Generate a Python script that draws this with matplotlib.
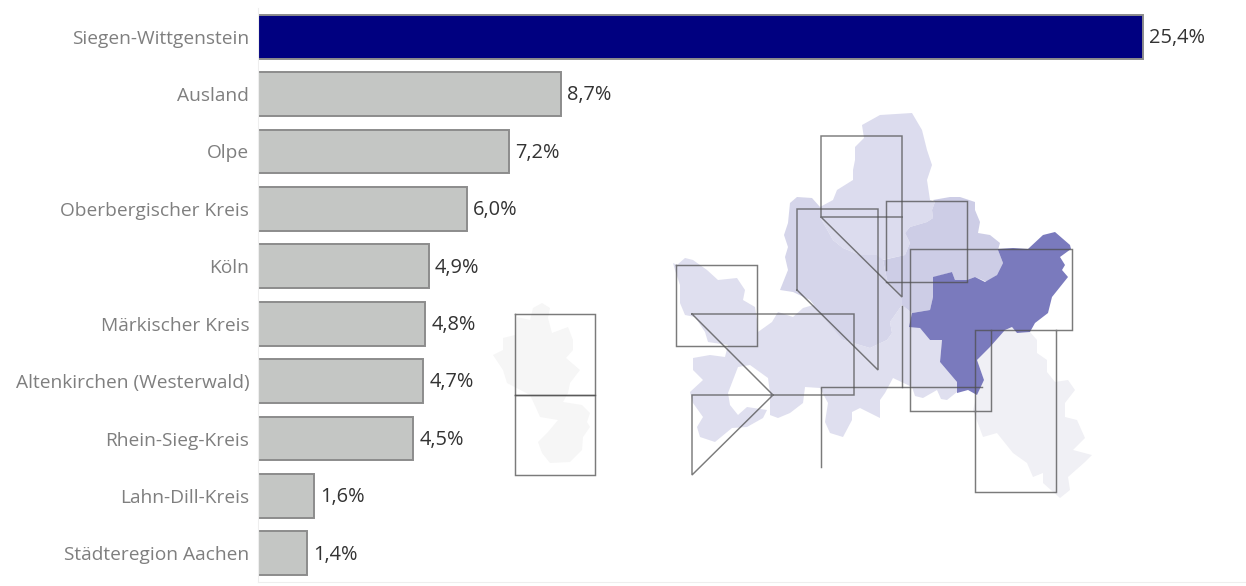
import matplotlib.pyplot as plt
from matplotlib.patches import Polygon

plt.rcParams['font.family'] = ['Open Sans', 'DejaVu Sans']

categories = ["Siegen-Wittgenstein", "Ausland", "Olpe", "Oberbergischer Kreis", "Köln",
              "Märkischer Kreis", "Altenkirchen (Westerwald)", "Rhein-Sieg-Kreis",
              "Lahn-Dill-Kreis", "Städteregion Aachen"]
values = [25.4, 8.7, 7.2, 6.0, 4.9, 4.8, 4.75, 4.45, 1.6, 1.4]
value_labels = ["25,4%", "8,7%", "7,2%", "6,0%", "4,9%", "4,8%", "4,7%", "4,5%", "1,6%", "1,4%"]

# map outlines in pixels
region_west = [(673, 263), (677, 265), (685, 258), (693, 260), (707, 270), (718, 280), (737, 278), (745, 290),
               (743, 300), (755, 307), (757, 320), (758, 332), (772, 322), (778, 312), (793, 317), (803, 308),
               (820, 303), (830, 317), (843, 340), (870, 348), (887, 340), (892, 333), (890, 322), (902, 305),
               (912, 313), (920, 328), (930, 340), (942, 340), (940, 362), (957, 382), (957, 392), (947, 400),
               (941, 399), (937, 390), (923, 398), (915, 396), (912, 387), (893, 378), (885, 393), (880, 400),
               (880, 418), (860, 408), (852, 412), (852, 420), (843, 437), (830, 433), (825, 422), (828, 403),
               (820, 388), (805, 387), (803, 403), (790, 413), (778, 418), (770, 415), (770, 393), (768, 378),
               (750, 365), (738, 367), (728, 393), (730, 405), (738, 415), (747, 407), (767, 410), (763, 418),
               (747, 427), (732, 428), (715, 442), (700, 437), (697, 427), (703, 417), (693, 403), (690, 392),
               (703, 380), (693, 370), (693, 358), (710, 355), (725, 357), (728, 345), (708, 342), (705, 332),
               (695, 317), (685, 315), (680, 303), (680, 285), (675, 270)]
region_north = [(862, 125), (880, 115), (912, 113), (922, 130), (927, 150), (932, 165), (927, 180), (930, 200),
                (935, 202), (932, 210), (933, 218), (927, 222), (910, 227), (905, 233), (910, 243), (905, 255),
                (882, 260), (877, 255), (860, 255), (843, 248), (833, 240), (820, 217), (820, 207), (833, 200),
                (837, 190), (853, 180), (853, 170), (855, 160), (855, 147), (864, 138)]
region_middle = [(790, 203), (797, 197), (812, 198), (820, 207), (820, 217), (833, 240), (843, 248), (860, 255),
                 (877, 255), (883, 260), (887, 280), (902, 297), (902, 305), (890, 322), (892, 333), (887, 340),
                 (870, 348), (843, 340), (823, 317), (810, 300), (793, 292), (780, 290), (788, 270), (785, 257),
                 (788, 247), (784, 235), (788, 223)]
region_olpe = [(933, 200), (950, 197), (960, 197), (975, 202), (975, 210), (980, 222), (978, 233), (990, 235),
               (1000, 243), (998, 250), (1003, 263), (997, 275), (987, 282), (975, 277), (967, 280), (955, 280),
               (952, 272), (935, 277), (933, 297), (930, 310), (912, 313), (902, 305), (902, 297), (887, 280),
               (883, 260), (905, 255), (910, 243), (905, 233), (910, 227), (927, 222), (933, 218), (932, 210),
               (935, 202)]
region_south = [(1005, 330), (1012, 327), (1017, 333), (1030, 332), (1037, 340), (1037, 353), (1047, 360),
                (1047, 372), (1055, 382), (1068, 380), (1075, 390), (1065, 403), (1065, 417), (1077, 420),
                (1085, 438), (1073, 450), (1092, 455), (1085, 462), (1068, 477), (1070, 490), (1060, 498),
                (1043, 483), (1043, 473), (1033, 477), (1027, 463), (1013, 453), (997, 433), (983, 437),
                (973, 410), (977, 395), (984, 380), (977, 360), (990, 347)]
region_siegen = [(998, 249), (1013, 248), (1028, 249), (1043, 235), (1055, 232), (1070, 245), (1071, 249),
                 (1060, 257), (1065, 265), (1062, 270), (1068, 277), (1052, 297), (1048, 313), (1035, 323),
                 (1030, 332), (1017, 333), (1012, 327), (1005, 330), (990, 347), (977, 360), (984, 380),
                 (977, 395), (968, 390), (957, 393), (957, 382), (940, 362), (942, 340), (930, 340), (920, 328),
                 (909, 327), (912, 313), (930, 310), (933, 297), (933, 277), (952, 272), (955, 280), (967, 280),
                 (975, 277), (985, 282), (997, 275), (1003, 263), (998, 250)]
region_pale = [(533, 308), (542, 303), (550, 308), (548, 318), (552, 333), (568, 327), (573, 340), (573, 350),
               (566, 358), (580, 370), (570, 383), (568, 393), (563, 402), (582, 405), (590, 413), (587, 422),
               (590, 427), (583, 437), (582, 450), (570, 462), (550, 463), (542, 453), (538, 442), (548, 432),
               (558, 420), (540, 417), (537, 410), (530, 395), (507, 383), (503, 370), (493, 355), (503, 350),
               (503, 338), (515, 335), (517, 317), (530, 320)]
regions = [region_pale, region_west, region_north, region_middle, region_olpe, region_south, region_siegen]
region_colors = ["#f6f6f6", "#dfdfef", "#dcdcee", "#d5d5ea", "#cdcde6", "#f0f0f5", "#7a7abd"]

# stray tile outlines over the map
tile_lines = [
    [(515, 314), (595, 314), (595, 395), (515, 395), (515, 314)],
    [(515, 395), (595, 395), (595, 475), (515, 475), (515, 395)],
    [(676, 265), (757, 265), (757, 346), (676, 346), (676, 265)],
    [(692, 314), (854, 314), (854, 395), (692, 395), (692, 475), (773, 395), (692, 314)],
    [(821, 217), (821, 136), (902, 136), (902, 297), (821, 217), (902, 217)],
    [(902, 306), (902, 387)],
    [(821, 467), (821, 387), (982, 387)],
    [(797, 290), (797, 209), (878, 209), (878, 370), (797, 290)],
    [(886, 270), (886, 201), (967, 201), (967, 282), (886, 282)],
    [(991, 330), (991, 411), (910, 411), (910, 249), (1072, 249), (1072, 330), (975, 330), (975, 492), (1056, 492),
     (1056, 330)],
]

fig = plt.figure(figsize=(12.46, 5.86), dpi=100)

ax = fig.add_axes([258 / 1246, (586 - 582) / 586, 988 / 1246, 574 / 586])
y_pos = list(range(len(categories)))
colors = ["#000080"] + ["#c4c6c4"] * (len(categories) - 1)
ax.barh(y_pos, values, height=0.766, color=colors, edgecolor="#8c8c8c", linewidth=1.4)
ax.set_xlim(0, 988 / 34.84)
ax.set_ylim(9.5, -0.5)
ax.set_yticks(y_pos, categories)
ax.set_xticks([])
ax.tick_params(axis='y', length=0, pad=6.3, labelsize=13.8, labelcolor="#7f7f7f")
for side in ["top", "right"]:
    ax.spines[side].set_visible(False)
ax.spines["left"].set_color("#eeeeee")
ax.spines["bottom"].set_color("#eeeeee")
for i in y_pos:
    ax.annotate(value_labels[i], (values[i], i), xytext=(4.5, -1), textcoords="offset points",
                va="center", ha="left", fontsize=14.4, color="#333333")

# map drawn on a transparent overlay in pixel coordinates
mp = fig.add_axes([0, 0, 1, 1], facecolor="none")
mp.set_xlim(0, 1246)
mp.set_ylim(586, 0)
mp.axis("off")
for outline, color in zip(regions, region_colors):
    mp.add_patch(Polygon(outline, closed=True, facecolor=color, edgecolor="none"))
for line in tile_lines:
    xs, ys = zip(*line)
    mp.plot(xs, ys, color="#4f4f4f", alpha=0.75, linewidth=1.05, solid_joinstyle="miter")

fig.savefig("out.png", dpi=100)
